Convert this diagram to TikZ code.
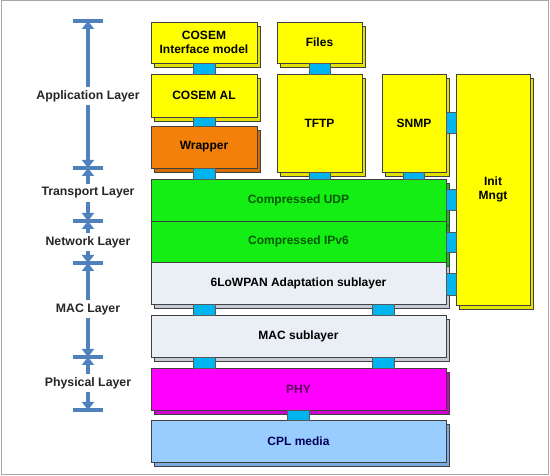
\documentclass[tikz,border=0pt]{standalone}
\usepackage{fontspec}
\setmainfont{Liberation Sans}
\usetikzlibrary{
	arrows.meta,
	positioning,
	shadows
}
\definecolor{apyel}{RGB}{255,255,0}
\definecolor{apyeldk}{RGB}{226,226,0}
\definecolor{wrporg}{RGB}{242,128,10}
\definecolor{wrporgdk}{RGB}{210,108,0}
\definecolor{netgrn}{RGB}{20,238,20}
\definecolor{netgrndk}{RGB}{10,196,10}
\definecolor{macgry}{RGB}{234,238,245}
\definecolor{macgrydk}{RGB}{196,202,214}
\definecolor{phymag}{RGB}{255,0,255}
\definecolor{phymagdk}{RGB}{210,0,210}
\definecolor{cplblu}{RGB}{153,204,255}
\definecolor{cplbludk}{RGB}{122,170,224}
\definecolor{lnkcyn}{RGB}{0,180,240}
\definecolor{arrblu}{RGB}{79,129,189}
\tikzset{
	box/.style={
		draw=black!75, line width=0.5pt, inner sep=0pt, outer sep=0pt,
		anchor=north west, align=center,
		font=\fontsize{12}{13.5}\selectfont\bfseries
	},
	slab/.style 2 args={
		box, fill=#1,
		copy shadow={shadow xshift=3pt, shadow yshift=-4pt, fill=#2, draw=black!75}
	},
	link/.style={
		draw=black!65, line width=0.4pt, fill=lnkcyn
	},
	lbl/.style={
		inner sep=3pt, text=black!85,
		font=\fontsize{12.3}{14}\selectfont\bfseries
	},
	bar/.style={
		arrblu, line width=4pt
	},
	arr/.style={
		arrblu, line width=3.5pt,
		-{Triangle[width=12pt,length=8pt]}
	}
}

\begin{document}
\begin{tikzpicture}[x=1pt,y=-1pt]
	\useasboundingbox (0,0) rectangle (550,476);
	\draw[black!35, line width=1pt] (1,1) rectangle (548,475);

	% application stack
	\node[slab={apyel}{apyeldk}, minimum width=106pt, minimum height=41pt]
		(cim) at (151,22) {COSEM\\Interface model};
	\node[slab={apyel}{apyeldk}, minimum width=106pt, minimum height=43pt,
		below=11pt of cim.south west, anchor=north west] (cal) {COSEM AL};
	\node[slab={wrporg}{wrporgdk}, minimum width=106pt, minimum height=42pt,
		below=9pt of cal.south west, anchor=north west] (wrp) {Wrapper};
	\node[slab={apyel}{apyeldk}, minimum width=85pt, minimum height=41pt]
		(files) at (277,22) {Files};
	\node[slab={apyel}{apyeldk}, minimum width=85pt, minimum height=98pt,
		below=11pt of files.south west, anchor=north west] (tftp) {TFTP};
	\node[slab={apyel}{apyeldk}, minimum width=64pt, minimum height=98pt]
		(snmp) at (382,74) {SNMP};
	\node[slab={apyel}{apyeldk}, minimum width=74pt, minimum height=231pt]
		(init) at (456,74) {Init\\Mngt};

	% lower stack
	\node[slab={netgrn}{netgrndk}, minimum width=295pt, minimum height=42pt,
		text=green!35!black, below=11pt of wrp.south west, anchor=north west] (udp) {Compressed UDP};
	\node[slab={netgrn}{netgrndk}, minimum width=295pt, minimum height=41pt,
		text=green!35!black, below=0pt of udp.south west, anchor=north west] (ipv6) {Compressed IPv6};
	\node[slab={macgry}{macgrydk}, minimum width=295pt, minimum height=42pt,
		below=0pt of ipv6.south west, anchor=north west] (lowpan) {6LoWPAN Adaptation sublayer};
	\node[slab={macgry}{macgrydk}, minimum width=295pt, minimum height=42pt,
		below=11pt of lowpan.south west, anchor=north west] (mac) {MAC sublayer};
	\node[slab={phymag}{phymagdk}, minimum width=295pt, minimum height=42pt,
		text=violet!70!black, below=11pt of mac.south west, anchor=north west] (phy) {PHY};
	\node[slab={cplblu}{cplbludk}, minimum width=295pt, minimum height=42pt,
		text=blue!35!black, below=10pt of phy.south west, anchor=north west] (cpl) {CPL media};

	% links between the blocks
	\draw[link] ([xshift=42pt]cim.south west) rectangle ([xshift=64pt]cal.north west);
	\draw[link] ([xshift=42pt]cal.south west) rectangle ([xshift=64pt]wrp.north west);
	\draw[link] ([xshift=42pt]wrp.south west) rectangle ([xshift=64pt]udp.north west);
	\draw[link] ([xshift=32pt]files.south west) rectangle ([xshift=53pt]tftp.north west);
	\draw[link] ([xshift=32pt]tftp.south west) rectangle ([xshift=53pt,yshift=-7pt]tftp.south west);
	\draw[link] ([xshift=21pt]snmp.south west) rectangle ([xshift=42pt,yshift=-7pt]snmp.south west);
	\draw[link] ([yshift=-38pt]snmp.north east) rectangle ([yshift=-59pt]init.north west);
	\draw[link] ([yshift=-10pt]udp.north east) rectangle ([xshift=10pt,yshift=-31pt]udp.north east);
	\draw[link] ([yshift=-11pt]ipv6.north east) rectangle ([xshift=10pt,yshift=-31pt]ipv6.north east);
	\draw[link] ([yshift=-11pt]lowpan.north east) rectangle ([xshift=10pt,yshift=-33pt]lowpan.north east);
	\draw[link] ([xshift=42pt]lowpan.south west) rectangle ([xshift=64pt]mac.north west);
	\draw[link] ([xshift=221pt]lowpan.south west) rectangle ([xshift=243pt]mac.north west);
	\draw[link] ([xshift=42pt]mac.south west) rectangle ([xshift=64pt]phy.north west);
	\draw[link] ([xshift=221pt]mac.south west) rectangle ([xshift=243pt]phy.north west);
	\draw[link] ([xshift=136pt]phy.south west) rectangle ([xshift=158pt]cpl.north west);

	% layer scale on the left
	\coordinate (t0) at (88,21);
	\coordinate (t1) at (88,168);
	\coordinate (t2) at (88,221);
	\coordinate (t3) at (88,263);
	\coordinate (t4) at (88,357);
	\coordinate (t5) at (88,410);
	\node[lbl] (app)  at (88,96)  {Application Layer};
	\node[lbl] (trn)  at (88,193) {Transport Layer};
	\node[lbl] (net)  at (88,242) {Network Layer};
	\node[lbl] (macl) at (88,309) {MAC Layer};
	\node[lbl] (phyl) at (88,383) {Physical Layer};
	\foreach \t in {t0,t1,t2,t3,t4,t5}
		\draw[bar] ([xshift=-15pt]\t) -- ([xshift=15pt]\t);
	\foreach \l/\a/\b in {app/t0/t1, trn/t1/t2, net/t2/t3, macl/t3/t4, phyl/t4/t5} {
		\draw[arr] (\l) -- (\a);
		\draw[arr] (\l) -- (\b);
	}
\end{tikzpicture}
\end{document}
